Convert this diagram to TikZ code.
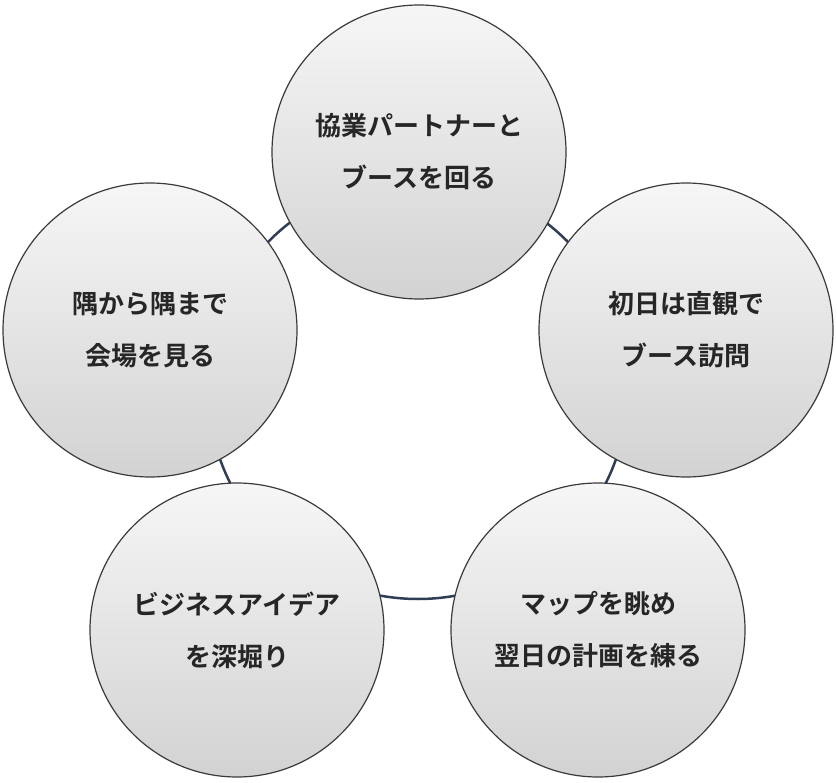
\documentclass[tikz,border=0pt]{standalone}
\usepackage{fontspec}
\newfontfamily\jpfont{Noto Sans CJK JP}[BoldFont={* Bold}]
\definecolor{ringcol}{HTML}{2F3D55}
\definecolor{edgecol}{HTML}{3A3A3A}
\begin{document}
\begin{tikzpicture}[x=1pt,y=-1pt,
    stage/.style={circle, draw=edgecol, line width=1.2pt, minimum size=294pt,
        top color=gray!7, bottom color=gray!35, align=center,
        font=\jpfont\bfseries\fontsize{26}{52}\selectfont, text=black!85}]
    \useasboundingbox (0,0) rectangle (837,783);

    % Ring behind the circles
    \draw[ringcol, line width=2.5pt] (418,389) circle (210);

    % Stages
    \node[stage] (partner) at (419,152) {協業パートナーと\\ブースを回る};
    \node[stage] (first)   at (686,330) {初日は直観で\\ブース訪問};
    \node[stage] (map)     at (598,630) {マップを眺め\\翌日の計画を練る};
    \node[stage] (idea)    at (237,630) {ビジネスアイデア\\を深堀り};
    \node[stage] (venue)   at (150,330) {隅から隅まで\\会場を見る};
\end{tikzpicture}
\end{document}
